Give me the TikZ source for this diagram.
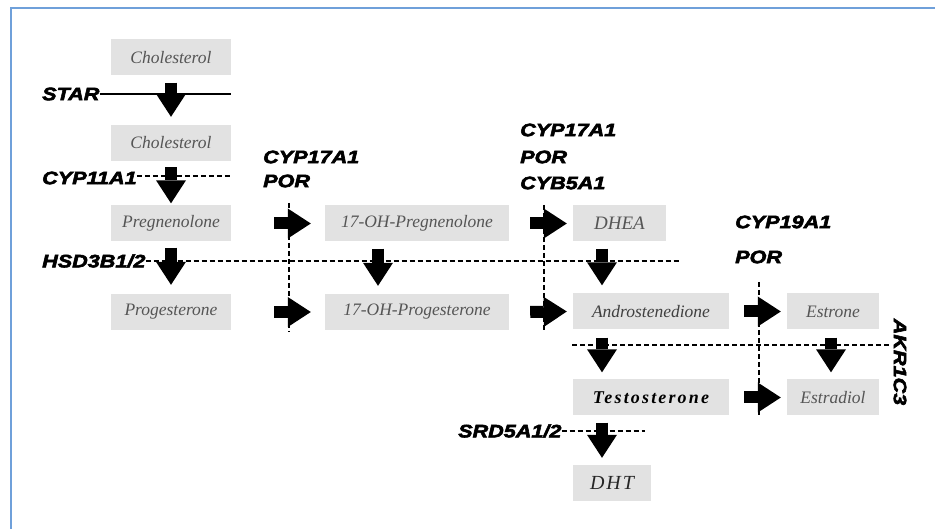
\documentclass[tikz,border=0pt]{standalone}
\usepackage{fontspec}
\setmainfont{Liberation Serif}
\newfontfamily\enzfont[FakeStretch=1.2,FakeBold=3.2]{Liberation Sans}
\usetikzlibrary{arrows.meta}
\definecolor{frameblue}{HTML}{6FA0DA}
\definecolor{boxgray}{HTML}{E2E2E2}
\definecolor{txtgray}{HTML}{555555}
\tikzset{
  metab/.style={fill=boxgray, draw=none, minimum height=36pt, inner sep=0pt,
    text=txtgray, font=\fontsize{17.5}{19}\selectfont\itshape},
  enz/.style={inner sep=0pt, font=\enzfont\fontsize{18}{20}\selectfont\bfseries\itshape},
  bigarrow/.style={line width=12pt, black,
    -{Triangle[length=23pt,width=30pt,line width=0pt]}},
  dashline/.style={line width=1.6pt, dash pattern=on 5pt off 3pt},
  solidline/.style={line width=1.2pt}
}
\begin{document}
\begin{tikzpicture}[x=1pt,y=-1pt]
\useasboundingbox (0,0) rectangle (935,529);
% frame
\draw[frameblue, line width=2pt] (11,529) -- (11,8) -- (935,8);

% metabolite boxes
\node[metab, minimum width=120pt] (chol1) at (171,57.5) {Cholesterol};
\node[metab, minimum width=120pt] (chol2) at (171,143) {Cholesterol};
\node[metab, minimum width=120pt] (preg) at (171,223.5) {Pregnenolone};
\node[metab, minimum width=120pt] (prog) at (171,312) {Progesterone};
\node[metab, minimum width=184pt] (ohpreg) at (417,223.5) {17-OH-Pregnenolone};
\node[metab, minimum width=184pt] (ohprog) at (417,312) {17-OH-Progesterone};
\node[metab, minimum width=93pt, font=\fontsize{19}{21}\selectfont\itshape] (dhea) at (619.5,223.5) {DHEA};
\node[metab, minimum width=156pt, text=black!75] (andro) at (651,311.5) {Androstenedione};
\node[metab, minimum width=156pt, text=black, font={\fontsize{18}{20}\selectfont\bfseries\itshape\addfontfeature{LetterSpace=12}}] (testo) at (651,397.5) {Testosterone};
\node[metab, minimum width=78pt, text=black!85, font={\fontsize{20}{22}\selectfont\itshape\addfontfeature{LetterSpace=10}}] (dht) at (612,483) {DHT};
\node[metab, minimum width=92pt] (estrone) at (833,311.5) {Estrone};
\node[metab, minimum width=92pt] (estradiol) at (833,397.5) {Estradiol};

% enzyme labels
\node[enz, anchor=west] (star) at (42,94) {STAR};
\node[enz, anchor=west] (cyp11) at (42,178) {CYP11A1};
\node[enz, anchor=west] (hsd) at (42,261) {HSD3B1/2};
\node[enz, anchor=west] (cyp17a) at (263,157) {CYP17A1};
\node[enz, anchor=west] (pora) at (263,181) {POR};
\node[enz, anchor=west] (cyp17b) at (520,130) {CYP17A1};
\node[enz, anchor=west] (porb) at (520,157) {POR};
\node[enz, anchor=west] (cyb5) at (520,183) {CYB5A1};
\node[enz, anchor=west] (cyp19) at (735,222) {CYP19A1};
\node[enz, anchor=west] (porc) at (735,257) {POR};
\node[enz, rotate=-90] (akr) at (900,362) {AKR1C3};
\node[enz, anchor=west] (srd) at (458,431) {SRD5A1/2};

% helper coordinates
\coordinate (hsdend) at ([xshift=14pt]dhea.east);
\coordinate (v1top) at (289,203);
\coordinate (v1bot) at (289,332);
\coordinate (v2top) at (544,205);
\coordinate (v2bot) at (544,332);
\coordinate (v3top) at (759,282);
\coordinate (v3bot) at (759,417);
\coordinate (akrstart) at (572,345);
\coordinate (akrend) at (890,345);
\coordinate (srdend) at (645,431);
\coordinate (colb) at (378,0);
\coordinate (colc) at (602,0);
\coordinate (cold) at (831,0);

% enzyme lines
\draw[solidline] (star.east) -- (star.east -| chol1.east);
\draw[dashline] ([yshift=2pt]cyp11.east) -- ([yshift=2pt]cyp11.east -| chol2.east);
\draw[dashline] (hsd.east) -- (hsd.east -| hsdend);
\draw[dashline] (v1top) -- (v1bot);
\draw[dashline] (v2top) -- (v2bot);
\draw[dashline] (v3top) -- (v3bot);
\draw[dashline] (akrstart) -- (akrend);
\draw[dashline] (srd.east) -- (srdend);

% vertical reaction arrows
\draw[bigarrow] ([yshift=-7pt]chol1.south) -- ([yshift=8pt]chol2.north);
\draw[bigarrow] ([yshift=-6pt]chol2.south) -- ([yshift=2pt]preg.north);
\draw[bigarrow] ([yshift=-6pt]preg.south) -- ([yshift=9pt]prog.north);
\draw[bigarrow] ([yshift=-7pt]ohpreg.south -| colb) -- ([yshift=8pt]ohprog.north -| colb);
\draw[bigarrow] ([yshift=-7pt]dhea.south -| colc) -- ([yshift=8pt]andro.north -| colc);
\draw[bigarrow] ([yshift=-8pt]andro.south -| colc) -- ([yshift=7pt]testo.north -| colc);
\draw[bigarrow] ([yshift=-8pt]estrone.south -| cold) -- ([yshift=7pt]estradiol.north -| cold);
\draw[bigarrow] ([yshift=-7pt]testo.south -| colc) -- ([yshift=7pt]dht.north -| colc);

% horizontal reaction arrows
\draw[bigarrow] ([xshift=43pt]preg.east) -- ([xshift=-14pt]ohpreg.west);
\draw[bigarrow] ([xshift=43pt]prog.east) -- ([xshift=-14pt]ohprog.west);
\draw[bigarrow] ([xshift=21pt]ohpreg.east) -- ([xshift=-6pt]dhea.west);
\draw[bigarrow] ([xshift=21pt]ohprog.east) -- ([xshift=-6pt]andro.west);
\draw[bigarrow] ([xshift=15pt]andro.east) -- ([xshift=-6pt]estrone.west);
\draw[bigarrow] ([xshift=15pt]testo.east) -- ([xshift=-6pt]estradiol.west);
\end{tikzpicture}
\end{document}
